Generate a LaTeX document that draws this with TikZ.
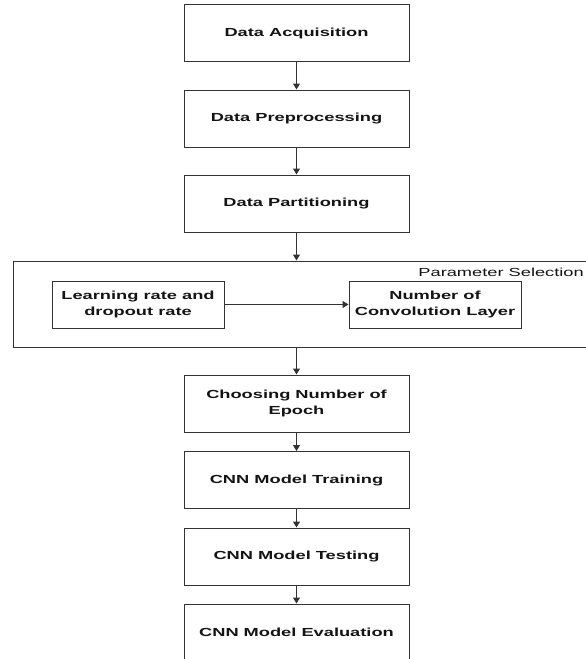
\documentclass[tikz,border=0pt]{standalone}
\usepackage{fontspec}
\setmainfont[FakeStretch=1.56]{Liberation Sans}
\usetikzlibrary{arrows.meta}
\tikzset{
  every node/.style={font=\fontsize{11.7}{15.5}\selectfont, text=black!92},
  stepbox/.style={draw=black!80, line width=1pt, fill=white, minimum width=225pt, minimum height=57pt, inner sep=2pt, align=center, font=\fontsize{11.7}{15.5}\selectfont\bfseries},
  innerbox/.style={draw=black!80, line width=1pt, fill=white, minimum width=172pt, minimum height=47pt, inner sep=2pt, align=center, font=\fontsize{11.7}{15.5}\selectfont\bfseries},
  groupbox/.style={draw=black!80, line width=1pt, minimum width=587pt, minimum height=86pt, inner sep=0pt},
  conn/.style={draw=black!80, line width=1pt, -{Triangle[length=6pt,width=7pt]}},
}
\begin{document}
\begin{tikzpicture}[x=1pt,y=-1pt]
\clip (0,0) rectangle (586,659);
\fill[white] (0,0) rectangle (586,659);
\node[stepbox] (b1) at (296.5,33) {Data Acquisition};
\node[stepbox] (b2) at (296.5,118.5) {Data Preprocessing};
\node[stepbox] (b3) at (296.5,203.5) {Data Partitioning};
\node[groupbox] (cont) at (306.5,304) {};
\node[anchor=east, inner sep=0pt] (plabel) at (584,272) {Parameter Selection};
\node[innerbox] (lr) at (138,304.5) {Learning rate and\\dropout rate};
\node[innerbox] (ncl) at (435,304.5) {Number of\\Convolution Layer};
\node[stepbox] (b4) at (296.5,403.5) {Choosing Number of\\Epoch};
\node[stepbox] (b5) at (296.5,480) {CNN Model Training};
\node[stepbox] (b6) at (296.5,556.5) {CNN Model Testing};
\node[stepbox] (b7) at (296.5,632.5) {CNN Model Evaluation};
\draw[conn] (b1) -- (b2);
\draw[conn] (b2) -- (b3);
\draw[conn] (b3.south) -- (b3.south |- cont.north);
\draw[conn] (lr) -- (ncl);
\draw[conn] (b4.north |- cont.south) -- (b4.north);
\draw[conn] (b4) -- (b5);
\draw[conn] (b5) -- (b6);
\draw[conn] (b6) -- (b7);
\end{tikzpicture}
\end{document}
